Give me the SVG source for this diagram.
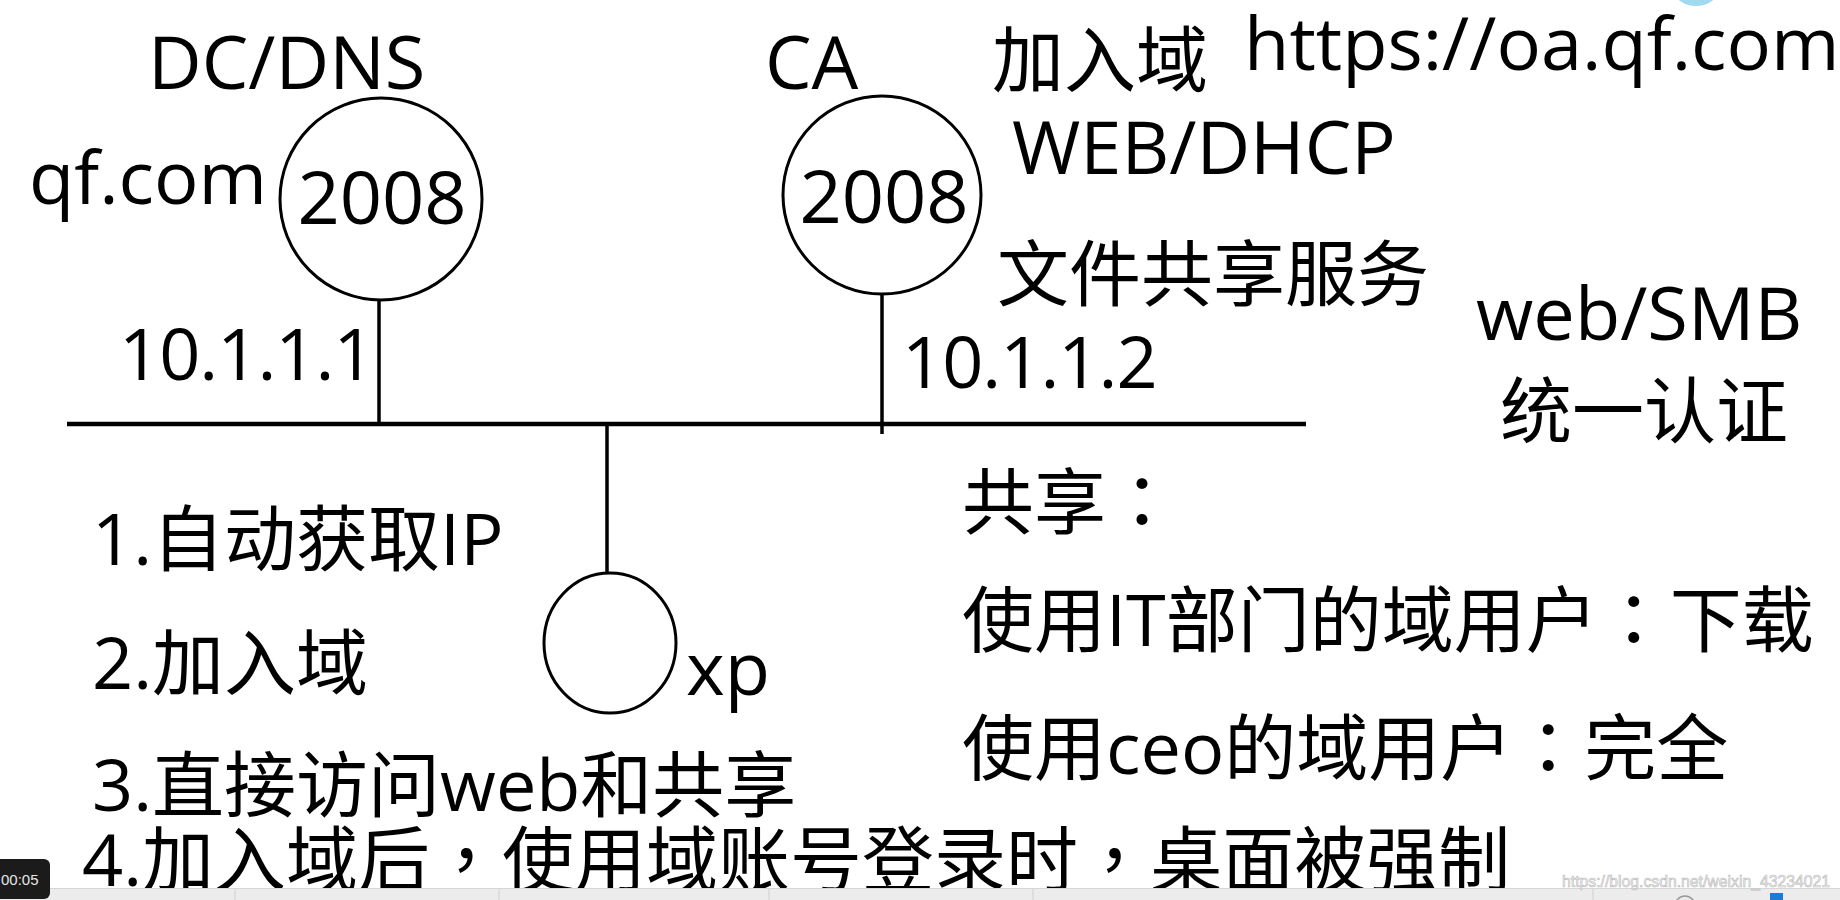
<svg xmlns="http://www.w3.org/2000/svg" width="1840" height="900" viewBox="0 0 1840 900">
<style>
.t{font-family:"Open Sans","Noto Sans CJK SC",sans-serif;font-size:74px;fill:#000}
.c{font-family:"Open Sans","Noto Sans CJK SC",sans-serif;font-size:72px;fill:#000}
.ip{font-size:72px;letter-spacing:-1px}
.p{font-family:"Noto Sans CJK TC","Noto Sans CJK SC",sans-serif}
.node{fill:#fff;stroke:#000;stroke-width:3}
.wire{stroke:#000;stroke-width:3.5;fill:none}
.bus{stroke:#000;stroke-width:4.5;fill:none}
</style>
<rect width="1840" height="900" fill="#fff"/>
<ellipse cx="1696" cy="-10" rx="22" ry="16" fill="#8fd4ef" opacity="0.85"/>

<g id="connectors">
  <line class="bus" x1="67" y1="424" x2="1306" y2="424"/>
  <line class="wire" x1="379" y1="299" x2="379" y2="424"/>
  <line class="wire" x1="882" y1="294" x2="882" y2="434"/>
  <line class="wire" x1="607" y1="424" x2="607" y2="574"/>
</g>

<g id="node-dc">
  <circle class="node" cx="381" cy="199" r="101"/>
  <text class="t" x="382" y="224" text-anchor="middle">2008</text>
  <text class="t" x="148" y="89">DC/DNS</text>
  <text class="t" x="29" y="204">qf.com</text>
  <text class="t ip" x="119" y="380">10.1.1.1</text>
</g>

<g id="node-ca">
  <circle class="node" cx="882" cy="195" r="99"/>
  <text class="t" x="884" y="223" text-anchor="middle">2008</text>
  <text class="t" x="765" y="89">CA</text>
  <text class="t ip" x="902" y="388">10.1.1.2</text>
  <text class="c" x="992" y="86">加入域</text>
  <text class="t" x="1012" y="174">WEB/DHCP</text>
  <text class="c" x="997" y="300">文件共享服务</text>
</g>

<g id="node-xp">
  <ellipse class="node" cx="610" cy="643" rx="66" ry="70"/>
  <text class="t" x="686" y="695">xp</text>
</g>

<g id="notes">
  <text class="t" x="1244" y="70">https://oa.qf.com</text>
  <text class="t" x="1476" y="340">web/SMB</text>
  <text class="c" x="1500" y="437">统一认证</text>
  <text class="c" x="92" y="565">1.自动获取IP</text>
  <text class="c" x="92" y="689">2.加入域</text>
  <text class="c" x="92" y="811">3.直接访问web和共享</text>
  <text class="c" x="82" y="886">4.加入域后<tspan class="p">，</tspan>使用域账号登录时<tspan class="p">，</tspan>桌面被强制</text>
  <text class="c" x="962" y="528">共享<tspan class="p">：</tspan></text>
  <text class="c" x="962" y="646">使用IT部门的域用户<tspan class="p">：</tspan>下载</text>
  <text class="c" x="962" y="774">使用ceo的域用户<tspan class="p">：</tspan>完全</text>
</g>

<g id="screen-chrome">
  <rect x="0" y="888" width="1840" height="12" fill="#ececec"/>
  <line x1="0" y1="888.5" x2="1840" y2="888.5" stroke="#d6d6d6" stroke-width="1"/>
  <line x1="235" y1="889" x2="235" y2="900" stroke="#d0d0d0"/>
  <line x1="499" y1="889" x2="499" y2="900" stroke="#d0d0d0"/>
  <line x1="769" y1="889" x2="769" y2="900" stroke="#d0d0d0"/>
  <line x1="1033" y1="889" x2="1033" y2="900" stroke="#d0d0d0"/>
  <line x1="1593" y1="889" x2="1593" y2="900" stroke="#d0d0d0"/>
  <circle cx="1685" cy="906" r="10" fill="none" stroke="#999" stroke-width="1.5"/>
  <rect x="1770" y="893" width="13" height="7" fill="#1f7ad6"/>
  <rect x="-6" y="859" width="56" height="40" rx="6" fill="#1b1b1b"/>
  <text x="1" y="885" font-family="Liberation Sans, sans-serif" font-size="15" fill="#e6e6e6">00:05</text>
  <text x="1562" y="887" font-family="Liberation Sans, sans-serif" font-size="16" fill="#f4f4f4" stroke="#b8b8b8" stroke-width="0.6" textLength="268" lengthAdjust="spacingAndGlyphs">https://blog.csdn.net/weixin_43234021</text>
</g>
</svg>
